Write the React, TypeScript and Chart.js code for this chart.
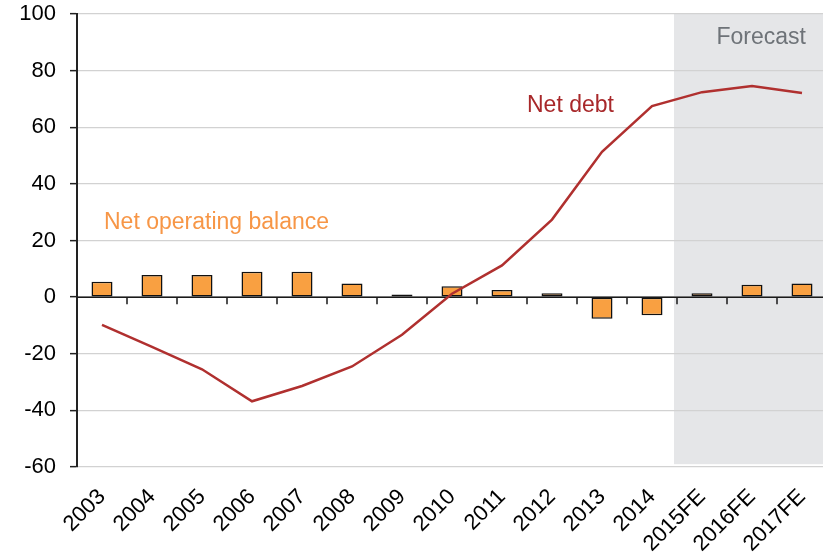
import React, { useEffect, useRef } from "react";
import { Chart, registerables } from "chart.js";

Chart.register(...registerables);

const categories = ["2003", "2004", "2005", "2006", "2007", "2008", "2009", "2010", "2011", "2012", "2013", "2014", "2015FE", "2016FE", "2017FE"];
const netOperatingBalance = [5.4, 7.8, 7.8, 9.0, 9.0, 4.8, 0.9, 3.8, 2.5, 1.4, -7.6, -6.4, 1.4, 4.4, 4.8];
const netDebt = [-9.8, -17.6, -25.5, -36.8, -31.4, -24.5, -13.3, 1.2, 11.2, 27.4, 51.3, 67.5, 72.4, 74.6, 72.1];
const yTicks = [100, 80, 60, 40, 20, 0, -20, -40, -60];
const forecastStartIndex = 12;

const FONT = "'Liberation Sans', Arial, sans-serif";

const overlayPlugin = {
  id: "overlay",
  beforeDraw(chart: any) {
    const { ctx, chartArea, scales } = chart;
    const x = scales.x;
    const y = scales.y;
    const left = (x.getPixelForValue(forecastStartIndex - 1) + x.getPixelForValue(forecastStartIndex)) / 2 - 3;
    ctx.save();
    ctx.fillStyle = "#E5E6E8";
    ctx.fillRect(left, chartArea.top, chartArea.right - left, y.getPixelForValue(-59) - chartArea.top);
    ctx.restore();
  },
  beforeDatasetsDraw(chart: any) {
    const { ctx, chartArea, scales } = chart;
    const x = scales.x;
    const y = scales.y;
    const y0 = y.getPixelForValue(0);
    ctx.save();
    ctx.strokeStyle = "#1a1a1a";
    ctx.lineWidth = 1.5;
    ctx.beginPath();
    ctx.moveTo(chartArea.left, y0);
    ctx.lineTo(chartArea.right, y0);
    for (let i = 0; i < categories.length; i++) {
      const bx = (x.getPixelForValue(i) + x.getPixelForValue(i + 1)) / 2;
      ctx.moveTo(bx, y0);
      ctx.lineTo(bx, y0 + 7);
    }
    ctx.stroke();
    ctx.restore();
  },
  afterDatasetsDraw(chart: any) {
    const { ctx, scales } = chart;
    const x = scales.x;
    const y = scales.y;
    ctx.save();
    ctx.font = `23px ${FONT}`;
    ctx.textBaseline = "middle";
    ctx.textAlign = "left";
    ctx.fillStyle = "#F79646";
    ctx.fillText("Net operating balance", x.getPixelForValue(0) + 2, y.getPixelForValue(26.3));
    ctx.fillStyle = "#A8282A";
    ctx.fillText("Net debt", (x.getPixelForValue(8) + x.getPixelForValue(9)) / 2, y.getPixelForValue(67.5));
    ctx.textAlign = "right";
    ctx.fillStyle = "#6E7378";
    ctx.fillText("Forecast", x.getPixelForValue(14) + 4, y.getPixelForValue(91.5));
    ctx.restore();
  },
};

export default function App() {
  const ref = useRef<HTMLCanvasElement | null>(null);
  useEffect(() => {
    if (!ref.current) return;
    const chart = new Chart(ref.current, {
      type: "bar",
      data: {
        labels: categories,
        datasets: [
          {
            type: "line",
            label: "Net debt",
            data: netDebt,
            borderColor: "#B0302F",
            borderWidth: 2.5,
            pointRadius: 0,
            tension: 0,
            order: 0,
          } as any,
          {
            type: "bar",
            label: "Net operating balance",
            data: netOperatingBalance,
            backgroundColor: "#F9A041",
            borderColor: "#111",
            borderWidth: 1.5,
            borderSkipped: false,
            barPercentage: 0.42,
            categoryPercentage: 1,
            order: 1,
          },
        ],
      },
      options: {
        responsive: false,
        animation: false,
        layout: { padding: { top: 14, right: 0, left: 0, bottom: 0 } },
        plugins: { legend: { display: false }, tooltip: { enabled: false } },
        scales: {
          x: {
            grid: { display: false, drawTicks: false },
            border: { display: false },
            ticks: {
              color: "#000",
              font: { family: FONT, size: 22 },
              maxRotation: 45,
              minRotation: 45,
              padding: 17,
              autoSkip: false,
            },
            afterFit(scale: any) {
              scale.height = 92;
              scale.paddingLeft = 0;
              scale.paddingRight = 0;
              scale.paddingTop = 0;
              scale.paddingBottom = 0;
            },
          },
          y: {
            min: -60,
            max: 100,
            afterBuildTicks(scale: any) {
              scale.ticks = yTicks.map((v) => ({ value: v }));
            },
            grid: {
              color: "#D2D2D2",
              lineWidth: 1.3,
              tickColor: "#222",
              tickLength: 7,
              tickWidth: 1.5,
            },
            border: { display: true, color: "#222", width: 2 },
            ticks: {
              color: "#000",
              font: { family: FONT, size: 22 },
              padding: 14,
            },
            afterFit(scale: any) {
              scale.width = 77;
              scale.paddingTop = 0;
              scale.paddingBottom = 0;
              scale.paddingLeft = 0;
              scale.paddingRight = 0;
            },
          },
        },
      },
      plugins: [overlayPlugin],
    });
    return () => chart.destroy();
  }, []);
  return (
    <div style={{ position: "fixed", left: 0, top: 0, width: 823, height: 559, overflow: "hidden", background: "#fff" }}>
      <canvas ref={ref} width={827} height={559} style={{ width: 827, height: 559, display: "block" }} />
    </div>
  );
}
